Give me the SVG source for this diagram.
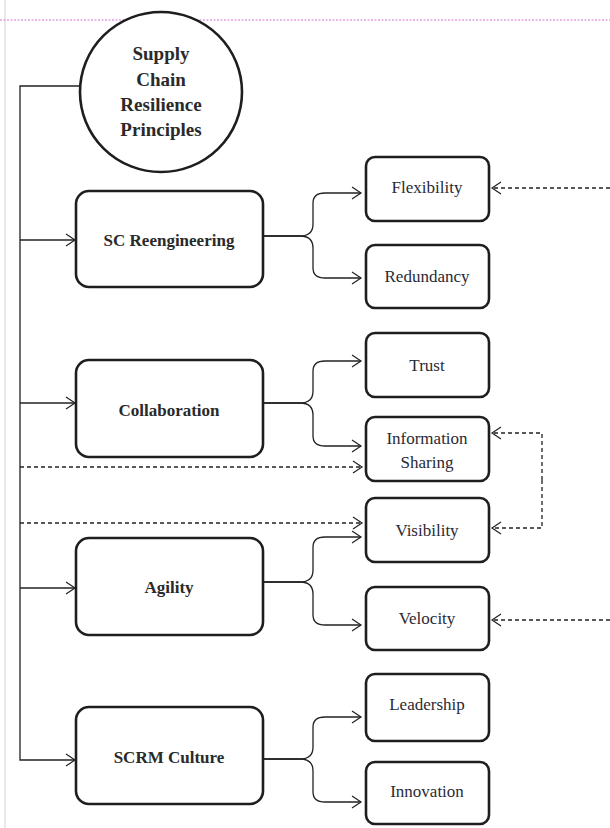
<svg xmlns="http://www.w3.org/2000/svg" width="610" height="828" viewBox="0 0 610 828">
<style>
.bg{fill:#ffffff}
.box{fill:#ffffff;stroke:#1e1e1e;stroke-width:2.6}
.ptxt{font-family:"Liberation Serif","Times New Roman",serif;font-size:17px;font-weight:bold;fill:#2a2a2a;text-anchor:middle}
.ctxt{font-family:"Liberation Serif","Times New Roman",serif;font-size:17px;fill:#2a2a35;text-anchor:middle}
.otxt{font-family:"Liberation Serif","Times New Roman",serif;font-size:19px;font-weight:bold;fill:#2a2a2a;text-anchor:middle}
.ln{fill:none;stroke:#222;stroke-width:1.3}
.ds{fill:none;stroke:#222;stroke-width:1.3;stroke-dasharray:4,3}
</style>
<defs>
<marker id="arr" viewBox="0 0 9 12" refX="9" refY="6" markerWidth="9" markerHeight="12" markerUnits="userSpaceOnUse" orient="auto" overflow="visible">
<path d="M0,0 L9,6 L0,12" fill="none" stroke="#222" stroke-width="1.2"/>
</marker>
</defs>
<rect class="bg" x="0" y="0" width="610" height="828"/>
<line x1="5" y1="0" x2="5" y2="828" stroke="#d4d4d4" stroke-width="1"/>
<line x1="0" y1="20" x2="610" y2="20" stroke="#d070d0" stroke-width="1" stroke-dasharray="2,1.5"/>

<g id="connectors">
<path class="ln" d="M80,86 H20 V760 H75" marker-end="url(#arr)"/>
<path class="ln" d="M20,240 H75" marker-end="url(#arr)"/>
<path class="ln" d="M20,403 H75" marker-end="url(#arr)"/>
<path class="ln" d="M20,588 H75" marker-end="url(#arr)"/>

<path class="ln" d="M263,236 H300 Q313,236 313,224 V203 Q313,193 325,193 H361" marker-end="url(#arr)"/>
<path class="ln" d="M263,236 H300 Q313,236 313,248 V268 Q313,278 325,278 H361" marker-end="url(#arr)"/>

<path class="ln" d="M263,403 H300 Q313,403 313,391 V371 Q313,361 325,361 H361" marker-end="url(#arr)"/>
<path class="ln" d="M263,403 H300 Q313,403 313,415 V436 Q313,446 325,446 H361" marker-end="url(#arr)"/>

<path class="ln" d="M263,582 H300 Q313,582 313,570 V547 Q313,537 325,537 H361" marker-end="url(#arr)"/>
<path class="ln" d="M263,582 H300 Q313,582 313,594 V615 Q313,625 325,625 H361" marker-end="url(#arr)"/>

<path class="ln" d="M263,759 H300 Q313,759 313,747 V727 Q313,717 325,717 H361" marker-end="url(#arr)"/>
<path class="ln" d="M263,759 H300 Q313,759 313,771 V792 Q313,802 325,802 H361" marker-end="url(#arr)"/>

<path class="ds" d="M610,188 H492" marker-end="url(#arr)"/>
<path class="ds" d="M610,620 H492" marker-end="url(#arr)"/>
<path class="ds" d="M542,480 V433 H492" marker-end="url(#arr)"/>
<path class="ds" d="M542,480 V528 H492" marker-end="url(#arr)"/>
<path class="ds" d="M20,467 H362" marker-end="url(#arr)"/>
<path class="ds" d="M20,523 H362" marker-end="url(#arr)"/>
</g>

<g id="root">
<ellipse cx="161" cy="92" rx="81" ry="80" fill="#fff" stroke="#1e1e1e" stroke-width="2.6"/>
<text class="otxt" x="161" y="60">Supply</text>
<text class="otxt" x="161" y="86">Chain</text>
<text class="otxt" x="161" y="111">Resilience</text>
<text class="otxt" x="161" y="136">Principles</text>
</g>

<g id="sc-reengineering">
<rect class="box" x="76" y="191" width="187" height="96" rx="13"/>
<text class="ptxt" x="169" y="246">SC Reengineering</text>
</g>
<g id="collaboration">
<rect class="box" x="76" y="360" width="187" height="97" rx="13"/>
<text class="ptxt" x="169" y="416">Collaboration</text>
</g>
<g id="agility">
<rect class="box" x="76" y="538" width="187" height="97" rx="13"/>
<text class="ptxt" x="169" y="593">Agility</text>
</g>
<g id="scrm-culture">
<rect class="box" x="76" y="707" width="187" height="97" rx="13"/>
<text class="ptxt" x="169" y="763">SCRM Culture</text>
</g>

<g id="flexibility">
<rect class="box" x="366" y="157" width="123" height="64" rx="9"/>
<text class="ctxt" x="427" y="193">Flexibility</text>
</g>
<g id="redundancy">
<rect class="box" x="366" y="245" width="123" height="63" rx="9"/>
<text class="ctxt" x="427" y="282">Redundancy</text>
</g>
<g id="trust">
<rect class="box" x="366" y="333" width="123" height="64" rx="9"/>
<text class="ctxt" x="427" y="371">Trust</text>
</g>
<g id="information-sharing">
<rect class="box" x="366" y="417" width="123" height="64" rx="9"/>
<text class="ctxt" x="427" y="444">Information</text>
<text class="ctxt" x="427" y="468">Sharing</text>
</g>
<g id="visibility">
<rect class="box" x="366" y="498" width="123" height="64" rx="9"/>
<text class="ctxt" x="427" y="536">Visibility</text>
</g>
<g id="velocity">
<rect class="box" x="366" y="587" width="123" height="63" rx="9"/>
<text class="ctxt" x="427" y="624">Velocity</text>
</g>
<g id="leadership">
<rect class="box" x="366" y="674" width="123" height="67" rx="9"/>
<text class="ctxt" x="427" y="710">Leadership</text>
</g>
<g id="innovation">
<rect class="box" x="366" y="762" width="123" height="62" rx="9"/>
<text class="ctxt" x="427" y="797">Innovation</text>
</g>
</svg>
